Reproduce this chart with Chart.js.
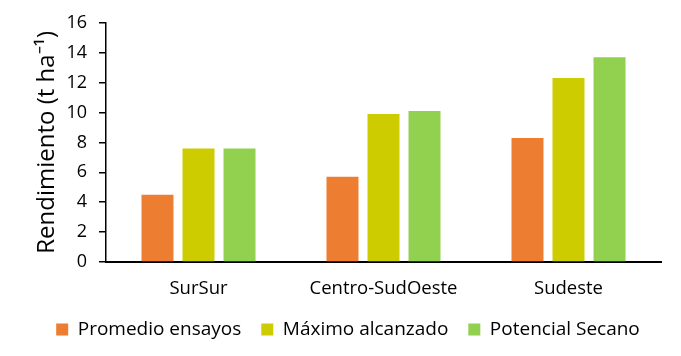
<!DOCTYPE html>
<html>
<head>
<meta charset="utf-8">
<script src="https://cdn.jsdelivr.net/npm/chart.js@4"></script>
<style>
  html, body { margin: 0; padding: 0; background: #ffffff; }
  #wrap { width: 681px; height: 356px; position: relative; }
</style>
</head>
<body>
<div id="wrap"><canvas id="c" width="681" height="356"></canvas></div>
<script>
const categories = ["SurSur", "Centro-SudOeste", "Sudeste"];
const seriesNames = ["Promedio ensayos", "Máximo alcanzado", "Potencial Secano"];
const promedioEnsayos = [4.5, 5.7, 8.3];
const maximoAlcanzado = [7.6, 9.9, 12.3];
const potencialSecano = [7.6, 10.1, 13.7];
const yTicks = [0, 2, 4, 6, 8, 10, 12, 14, 16];
const yTitle = "Rendimiento (t ha\u207B\u00B9)";

const FONT = "'Open Sans', sans-serif";
const colors = ["#ED7D31", "#CCCC00", "#92D050"];

new Chart(document.getElementById("c"), {
  type: "bar",
  data: {
    labels: categories,
    datasets: [
      { label: seriesNames[0], data: promedioEnsayos, backgroundColor: colors[0] },
      { label: seriesNames[1], data: maximoAlcanzado, backgroundColor: colors[1] },
      { label: seriesNames[2], data: potencialSecano, backgroundColor: colors[2] }
    ]
  },
  options: {
    responsive: false,
    animation: false,
    devicePixelRatio: 1,
    layout: { padding: { top: 21, right: 20, bottom: 7, left: 35 } },
    datasets: { bar: { categoryPercentage: 0.665, barPercentage: 0.78 } },
    plugins: {
      legend: {
        position: "bottom",
        labels: {
          boxWidth: 12, boxHeight: 12, padding: 20,
          color: "#000", font: { family: FONT, size: 19 }
        }
      },
      tooltip: { enabled: false }
    },
    scales: {
      x: {
        grid: { display: false },
        border: { display: true, color: "#000", width: 2 },
        ticks: { color: "#000", font: { family: FONT, size: 18.5 }, padding: 8 },
        afterFit: (s) => { s.height = 38; s._computeLabelArea = () => null; }
      },
      y: {
        min: 0, max: 16,
        afterBuildTicks: (s) => { s.ticks = yTicks.map(v => ({ value: v })); },
        grid: { display: true, drawOnChartArea: false, drawTicks: true, tickLength: 7, color: "#000", lineWidth: 1.5 },
        border: { display: true, color: "#000", width: 1.5 },
        ticks: { color: "#000", font: { family: FONT, size: 18 }, padding: 12 },
        title: { display: true, text: yTitle, color: "#000", font: { family: FONT, size: 24, lineHeight: 1 }, padding: { top: 0, bottom: 0 } },
        afterFit: (s) => { s.width = 71; }
      }
    }
  }
});
</script>
</body>
</html>
